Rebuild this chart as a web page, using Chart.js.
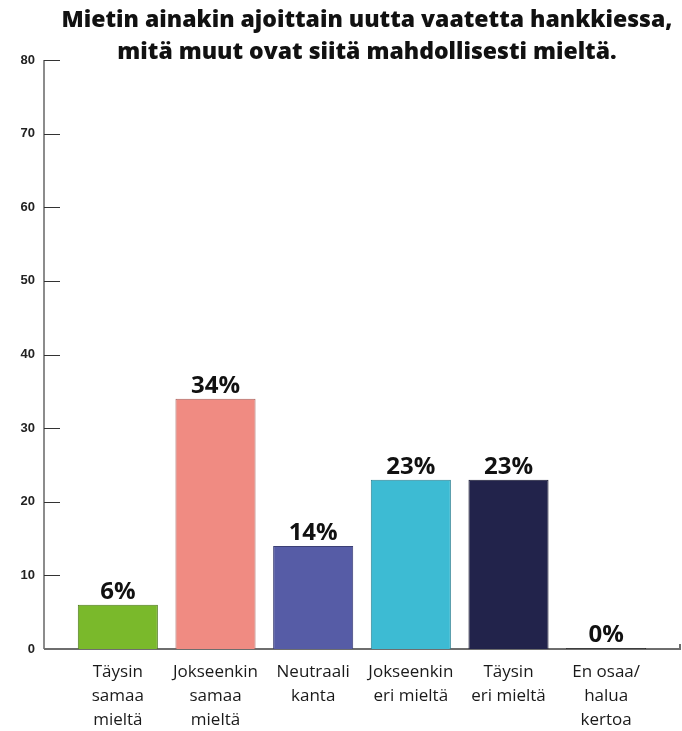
<!DOCTYPE html>
<html>
<head>
<meta charset="utf-8">
<script src="https://cdn.jsdelivr.net/npm/chart.js@4"></script>
<style>
    html, body { margin: 0; padding: 0; background: #ffffff; }
    #wrap { width: 682px; height: 731px; }
</style>
</head>
<body>
<div id="wrap"><canvas id="surveyChart" width="682" height="731"></canvas></div>
<script>
// Chart data
const titleLines = [
    'Mietin ainakin ajoittain uutta vaatetta hankkiessa,',
    'mitä muut ovat siitä mahdollisesti mieltä.'
];
const categories = [
    ['Täysin', 'samaa', 'mieltä'],
    ['Jokseenkin', 'samaa', 'mieltä'],
    ['Neutraali', 'kanta'],
    ['Jokseenkin', 'eri mieltä'],
    ['Täysin', 'eri mieltä'],
    ['En osaa/', 'halua', 'kertoa']
];
const values = [6, 34, 14, 23, 23, 0];
const yTicks = [0, 10, 20, 30, 40, 50, 60, 70, 80];

const barColors = ['#7AB92B', '#F08B82', '#565CA6', '#3DBBD3', '#22234B', '#333333'];
const barBorders = ['#4f7a1c', '#a8615b', '#3b3f75', '#2a8294', '#15162f', '#222222'];

// Title centred over the plot, like the original
const titlePlugin = {
    id: 'centredTitle',
    afterDraw(chart) {
        const { ctx, chartArea } = chart;
        const cx = (chartArea.left + chartArea.right) / 2 + 5;
        ctx.save();
        ctx.fillStyle = '#111111';
        ctx.font = '800 23px "Open Sans"';
        ctx.textAlign = 'center';
        ctx.textBaseline = 'middle';
        ctx.fillText(titleLines[0], cx, 20);
        ctx.fillText(titleLines[1], cx, 52);
        ctx.restore();
    }
};

// Axis lines sit a little outside the bar area
const axisPlugin = {
    id: 'axisLines',
    beforeDatasetsDraw(chart) {
        const { ctx, chartArea, scales } = chart;
        const left = chartArea.left - 25;
        const right = chartArea.right + 25;
        const bottom = scales.y.getPixelForValue(0);
        const top = scales.y.getPixelForValue(80);
        ctx.save();
        ctx.strokeStyle = '#8c8c8c';
        ctx.lineWidth = 2;
        ctx.beginPath();
        ctx.moveTo(left, top);
        ctx.lineTo(left, bottom);
        ctx.stroke();

        ctx.strokeStyle = '#333333';
        ctx.lineWidth = 1;
        yTicks.forEach(t => {
            const y = Math.round(scales.y.getPixelForValue(t)) + 0.5;
            ctx.beginPath();
            ctx.moveTo(left, y);
            ctx.lineTo(left + 16, y);
            ctx.stroke();
        });

        ctx.strokeStyle = '#6e6e6e';
        ctx.lineWidth = 2;
        ctx.beginPath();
        ctx.moveTo(left, bottom);
        ctx.lineTo(right, bottom);
        ctx.lineTo(right, bottom - 5);
        ctx.stroke();
        ctx.restore();
    }
};

// Percent labels above the bars
const valueLabels = {
    id: 'valueLabels',
    afterDatasetsDraw(chart) {
        const { ctx } = chart;
        const meta = chart.getDatasetMeta(0);
        ctx.save();
        ctx.fillStyle = '#111111';
        ctx.font = 'bold 24px "Open Sans"';
        ctx.textAlign = 'center';
        ctx.textBaseline = 'bottom';
        meta.data.forEach((bar, i) => {
            ctx.fillText(values[i] + '%', bar.x, bar.y - 1);
        });
        ctx.restore();
    }
};

const ctx = document.getElementById('surveyChart').getContext('2d');
new Chart(ctx, {
    type: 'bar',
    data: {
        labels: categories,
        datasets: [{
            data: values,
            backgroundColor: barColors,
            borderColor: barBorders,
            borderWidth: 1,
            minBarLength: 1,
            categoryPercentage: 1,
            barPercentage: 0.82
        }]
    },
    options: {
        responsive: false,
        animation: false,
        layout: {
            padding: { top: 60, right: 27, left: 0, bottom: 0 }
        },
        plugins: {
            legend: { display: false },
            title: { display: false },
            tooltip: { enabled: false }
        },
        scales: {
            x: {
                grid: { display: false },
                border: { display: false },
                ticks: {
                    color: '#1a1a1a',
                    padding: 3,
                    maxRotation: 0,
                    autoSkip: false,
                    font: { family: '"Open Sans"', size: 17, weight: '500', lineHeight: 1.42 }
                },
                afterFit(scale) { scale.height = 82; }
            },
            y: {
                min: 0,
                max: 80,
                afterBuildTicks(scale) {
                    scale.ticks = yTicks.map(v => ({ value: v }));
                },
                grid: { display: false, drawTicks: false },
                border: { display: false },
                ticks: {
                    color: '#222222',
                    padding: 34,
                    font: { family: '"Liberation Sans"', size: 13, weight: 'bold' }
                },
                afterFit(scale) { scale.width = 69; }
            }
        }
    },
    plugins: [axisPlugin, valueLabels, titlePlugin]
});
</script>
</body>
</html>
